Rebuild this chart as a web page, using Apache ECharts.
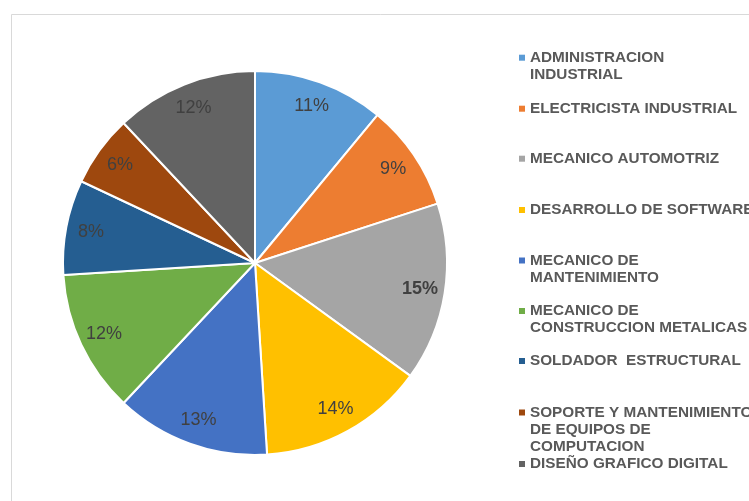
<!DOCTYPE html>
<html>
<head>
<meta charset="utf-8">
<script src="https://cdn.jsdelivr.net/npm/echarts@6/dist/echarts.min.js"></script>
<style>
  html, body { margin: 0; padding: 0; background: #ffffff; }
  #chart { width: 749px; height: 501px; }
</style>
</head>
<body>
<div id="chart"></div>
<script>
// Careers and their share of enrolment (%)
const categories = [
  'ADMINISTRACION INDUSTRIAL',
  'ELECTRICISTA INDUSTRIAL',
  'MECANICO AUTOMOTRIZ',
  'DESARROLLO DE SOFTWARE',
  'MECANICO DE MANTENIMIENTO',
  'MECANICO DE CONSTRUCCION METALICAS',
  'SOLDADOR  ESTRUCTURAL',
  'SOPORTE Y MANTENIMIENTO DE EQUIPOS DE COMPUTACION',
  'DISEÑO GRAFICO DIGITAL'
];
const legendText = [
  'ADMINISTRACION\nINDUSTRIAL',
  'ELECTRICISTA INDUSTRIAL',
  'MECANICO AUTOMOTRIZ',
  'DESARROLLO DE SOFTWARE',
  'MECANICO DE\nMANTENIMIENTO',
  'MECANICO DE\nCONSTRUCCION METALICAS',
  'SOLDADOR  ESTRUCTURAL',
  'SOPORTE Y MANTENIMIENTO\nDE EQUIPOS DE\nCOMPUTACION',
  'DISEÑO GRAFICO DIGITAL'
];
const shares = [11, 9, 15, 14, 13, 12, 8, 6, 12];
const colors = ['#5B9BD5', '#ED7D31', '#A5A5A5', '#FFC000', '#4472C4', '#70AD47', '#255E91', '#9E480E', '#636363'];
const boldLabels = ['MECANICO AUTOMOTRIZ'];

// ---- layout ----
const FONT = '"Liberation Sans", Arial, sans-serif';
const CENTER = [255, 263];
const R = 192;
const LINE_H = 17;
const legendLineY = [57.7, 108.7, 158.7, 210, 260.5, 311, 361, 412.5, 464];

const pieData = categories.map((name, i) => ({
  name: name,
  value: shares[i],
  itemStyle: { color: colors[i] }
}));

const labelData = categories.map((name, i) => ({
  name: name,
  value: shares[i],
  label: boldLabels.includes(name) ? { fontWeight: 'bold' } : {}
}));

// One legend block per entry. The text block is centred on the icon, so
// wrapped entries get blank lines on top to keep the icon on the first line.
const legends = categories.map((name, i) => {
  const n = legendText[i].split('\n').length;
  const text = '\n'.repeat(n - 1) + legendText[i];
  return {
    data: [name],
    orient: 'vertical',
    left: 519,
    top: legendLineY[i] - ((2 * n - 1) * LINE_H) / 2,
    padding: 0,
    icon: 'rect',
    itemWidth: 6,
    itemHeight: 6,
    itemStyle: { borderWidth: 0 },
    selectedMode: false,
    formatter: () => text,
    textStyle: {
      fontFamily: FONT,
      fontSize: 15.3,
      fontWeight: 'bold',
      color: '#595959',
      lineHeight: LINE_H
    }
  };
});

const chart = echarts.init(document.getElementById('chart'), null, { renderer: 'canvas' });
chart.setOption({
  backgroundColor: '#ffffff',
  animation: false,
  graphic: [{
    type: 'rect',
    shape: { x: 11.5, y: 14.5, width: 900, height: 700 },
    style: { fill: 'none', stroke: '#D9D9D9', lineWidth: 1 },
    silent: true,
    z: -10
  }],
  legend: legends,
  series: [
    {
      type: 'pie',
      center: CENTER,
      radius: [0, R],
      startAngle: 90,
      clockwise: true,
      silent: true,
      label: { show: false },
      labelLine: { show: false },
      itemStyle: { borderColor: '#ffffff', borderWidth: 2 },
      data: pieData
    },
    {
      // transparent ring that carries the percentage labels
      type: 'pie',
      center: CENTER,
      radius: [R - 56, R],
      startAngle: 90,
      clockwise: true,
      silent: true,
      itemStyle: { color: 'rgba(0,0,0,0)' },
      labelLine: { show: false },
      label: {
        show: true,
        position: 'inside',
        formatter: '{c}%',
        fontFamily: FONT,
        fontSize: 18,
        color: '#404040'
      },
      data: labelData
    }
  ]
});
</script>
</body>
</html>
